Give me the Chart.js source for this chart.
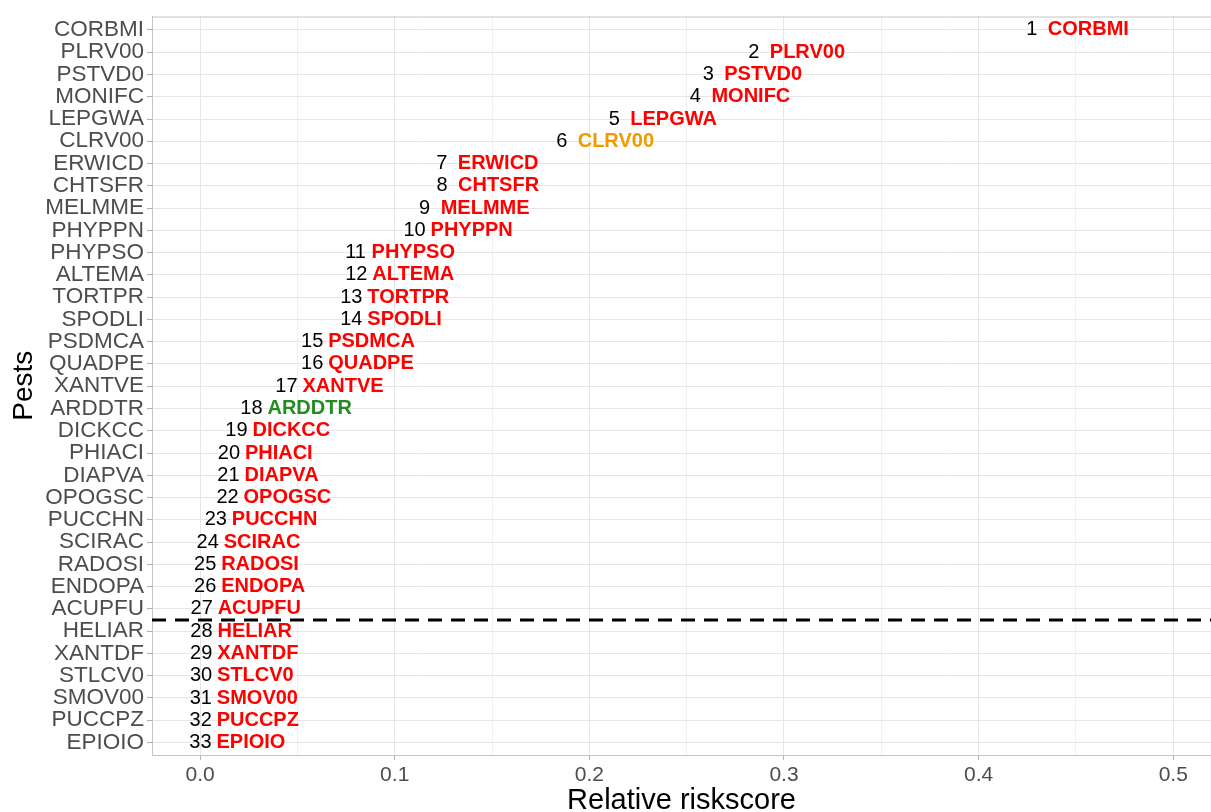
<!DOCTYPE html>
<html>
<head>
<meta charset="utf-8">
<title>Relative riskscore</title>
<script src="https://cdn.jsdelivr.net/npm/chart.js@4/dist/chart.umd.min.js"></script>
<style>
    html, body { margin: 0; padding: 0; background: #fff; overflow: hidden; }
    #wrap { width: 1211px; height: 812px; }
</style>
</head>
<body>
<div id="wrap"><canvas id="riskChart" width="1211" height="812"></canvas></div>
<script>
// pests in rank order (top to bottom)
const pests = ['CORBMI', 'PLRV00', 'PSTVD0', 'MONIFC', 'LEPGWA', 'CLRV00', 'ERWICD', 'CHTSFR', 'MELMME', 'PHYPPN',
    'PHYPSO', 'ALTEMA', 'TORTPR', 'SPODLI', 'PSDMCA', 'QUADPE', 'XANTVE', 'ARDDTR', 'DICKCC', 'PHIACI',
    'DIAPVA', 'OPOGSC', 'PUCCHN', 'SCIRAC', 'RADOSI', 'ENDOPA', 'ACUPFU', 'HELIAR', 'XANTDF', 'STLCV0',
    'SMOV00', 'PUCCPZ', 'EPIOIO'];
const ranks = [1, 2, 3, 4, 5, 6, 7, 8, 9, 10, 11, 12, 13, 14, 15, 16, 17, 18, 19, 20,
    21, 22, 23, 24, 25, 26, 27, 28, 29, 30, 31, 32, 33];
const riskScores = [0.4273, 0.2845, 0.2611, 0.2545, 0.2128, 0.1858, 0.1242, 0.1243, 0.1154, 0.1102,
    0.0799, 0.0803, 0.0777, 0.0777, 0.0576, 0.0576, 0.0444, 0.0264, 0.0187, 0.0148,
    0.0146, 0.0141, 0.0081, 0.0039, 0.0026, 0.0026, 0.0008, 0.0007, 0.0006, 0.0005,
    0.0004, 0.0003, 0.0002];
const labelColors = ['red', 'red', 'red', 'red', 'red', '#EE9A00', 'red', 'red', 'red', 'red',
    'red', 'red', 'red', 'red', 'red', 'red', 'red', '#228B22', 'red', 'red',
    'red', 'red', 'red', 'red', 'red', 'red', 'red', 'red', 'red', 'red',
    'red', 'red', 'red'];
const xTickValues = [0, 0.05, 0.1, 0.15, 0.2, 0.25, 0.3, 0.35, 0.4, 0.45, 0.5];
const xTickLabels = ['0.0', '', '0.1', '', '0.2', '', '0.3', '', '0.4', '', '0.5'];
const xMin = -0.0247;
const xMax = 0.5194;
const cutoffPosition = 26.5; // between rank 27 and 28

const fontFamily = '"Liberation Sans", Arial, sans-serif';

const textLabels = {
    id: 'textLabels',
    afterDatasetsDraw(chart) {
        const ctx = chart.ctx;
        const meta = chart.getDatasetMeta(0);
        ctx.save();
        ctx.textBaseline = 'middle';
        meta.data.forEach((pt, i) => {
            ctx.font = '20px ' + fontFamily;
            ctx.fillStyle = '#000';
            ctx.textAlign = 'center';
            ctx.fillText(String(ranks[i]), pt.x, pt.y);
            ctx.font = 'bold 20px ' + fontFamily;
            ctx.fillStyle = labelColors[i];
            ctx.textAlign = 'left';
            ctx.fillText(pests[i], pt.x + 16, pt.y);
        });
        ctx.restore();
    }
};

const topBorder = {
    id: 'topBorder',
    afterDraw(chart) {
        const {ctx, chartArea} = chart;
        ctx.save();
        ctx.strokeStyle = '#c4c4c4';
        ctx.lineWidth = 1;
        ctx.beginPath();
        ctx.moveTo(chartArea.left, chartArea.top + 0.5);
        ctx.lineTo(chartArea.right, chartArea.top + 0.5);
        ctx.stroke();
        ctx.restore();
    }
};

const ctx = document.getElementById('riskChart').getContext('2d');
new Chart(ctx, {
    type: 'scatter',
    data: {
        datasets: [{
            data: riskScores.map((v, i) => ({ x: v, y: i })),
            pointRadius: 0,
            showLine: false
        }, {
            type: 'line',
            data: [{ x: xMin, y: cutoffPosition }, { x: xMax, y: cutoffPosition }],
            borderColor: '#000',
            borderWidth: 3,
            borderDash: [14, 9],
            pointRadius: 0,
            fill: false
        }]
    },
    options: {
        responsive: false,
        animation: false,
        layout: { padding: { top: 14, left: 0, right: 0, bottom: 0 } },
        plugins: {
            legend: { display: false },
            tooltip: { enabled: false }
        },
        scales: {
            x: {
                type: 'linear',
                min: xMin,
                max: xMax,
                afterBuildTicks: scale => {
                    scale.ticks = xTickValues.map(v => ({ value: v }));
                },
                afterFit: scale => { scale.height = 57; },
                ticks: {
                    autoSkip: false,
                    maxRotation: 0,
                    padding: 3,
                    color: '#4d4d4d',
                    font: { family: fontFamily, size: 21 },
                    callback: (value, index) => xTickLabels[index]
                },
                grid: {
                    color: c => (c.tick && xTickLabels[c.index] === '') ? '#f0f0f0' : '#e6e6e6',
                    tickColor: c => (c.tick && xTickLabels[c.index] === '') ? 'rgba(0,0,0,0)' : '#b3b3b3',
                    tickLength: 5
                },
                border: { color: '#c4c4c4' },
                title: {
                    display: true,
                    text: 'Relative riskscore',
                    color: '#000',
                    font: { family: fontFamily, size: 29, lineHeight: 1 },
                    padding: { top: 0, bottom: -3 }
                }
            },
            y: {
                type: 'linear',
                reverse: true,
                min: -0.604,
                max: 32.56,
                afterBuildTicks: scale => {
                    scale.ticks = pests.map((p, i) => ({ value: i }));
                },
                afterFit: scale => { scale.width = 152; },
                ticks: {
                    autoSkip: false,
                    padding: 3,
                    color: '#4d4d4d',
                    font: { family: fontFamily, size: 22.5 },
                    callback: value => pests[value]
                },
                grid: {
                    color: '#e6e6e6',
                    tickColor: '#b3b3b3',
                    tickLength: 5
                },
                border: { color: '#c4c4c4' },
                title: {
                    display: true,
                    text: 'Pests',
                    color: '#000',
                    font: { family: fontFamily, size: 28, lineHeight: 1 },
                    padding: { top: 10, bottom: 0 }
                }
            }
        }
    },
    plugins: [textLabels, topBorder]
});
</script>
</body>
</html>
